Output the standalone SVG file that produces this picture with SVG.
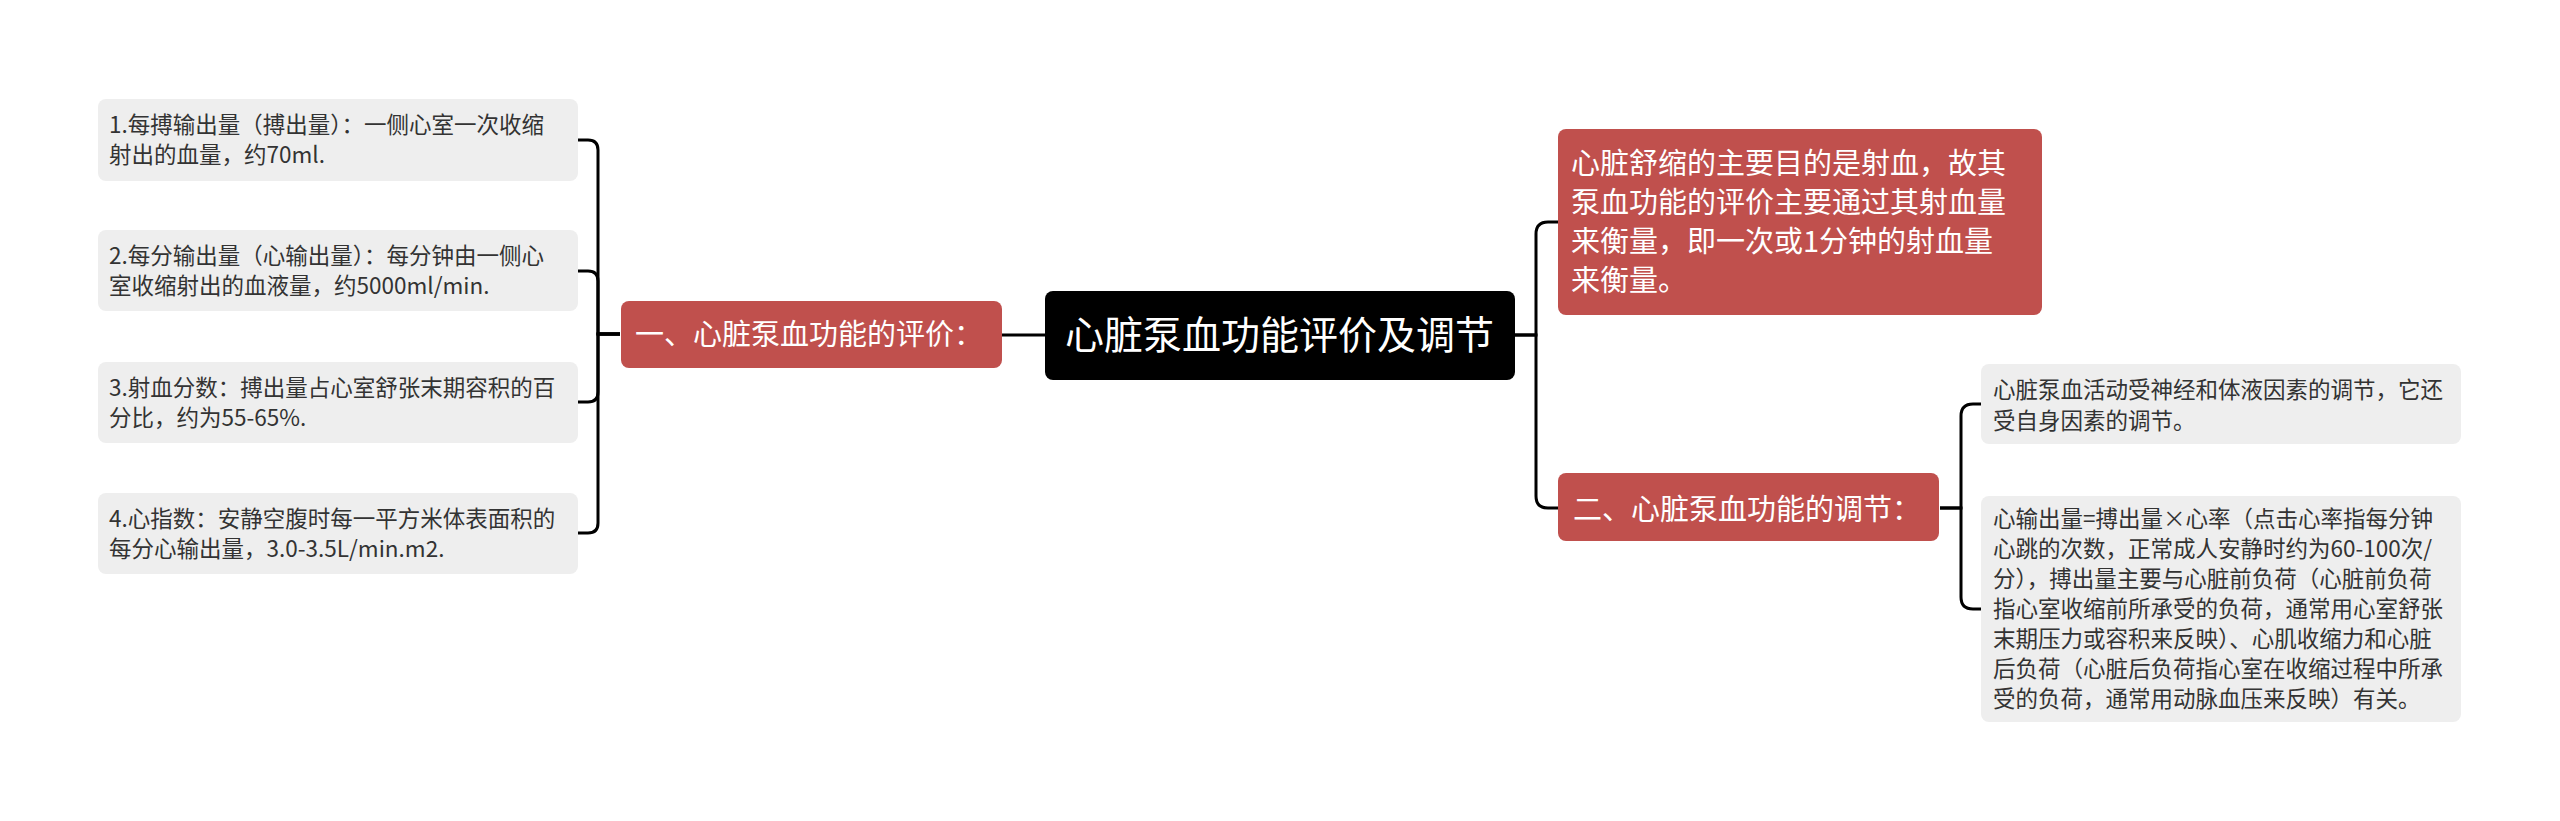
<svg xmlns="http://www.w3.org/2000/svg" width="2560" height="821" viewBox="0 0 2560 821">
<style>
.leaf{fill:#eeeeee}
.red{fill:#c0504d}
.lt{font-family:"Microsoft YaHei","Noto Sans CJK SC","Noto Sans",sans-serif;font-size:22.5px;fill:#333333}
.rt{font-family:"Noto Sans CJK SC",sans-serif;font-size:29px;fill:#ffffff}
.mt{font-family:"Noto Sans CJK SC",sans-serif;font-size:29px;fill:#ffffff}
.ct{font-family:"Noto Sans CJK SC",sans-serif;font-size:39px;fill:#ffffff}
.ln{fill:none;stroke:#000000;stroke-width:3}
</style>
<rect width="2560" height="821" fill="#ffffff"/>
<g id="connectors">
<path class="ln" d="M1045 335 H1001"/>
<path class="ln" d="M620 334 H598 V150 Q598 140 588 140 H578"/>
<path class="ln" d="M620 334 H598 V281 Q598 271 588 271 H578"/>
<path class="ln" d="M620 334 H598 V392 Q598 402 588 402 H578"/>
<path class="ln" d="M620 334 H598 V523 Q598 533 588 533 H578"/>
<path class="ln" d="M1515 335 H1536 V234 Q1536 222 1548 222 H1558"/>
<path class="ln" d="M1515 335 H1536 V496 Q1536 508 1548 508 H1559"/>
<path class="ln" d="M1940 508 H1961 V416 Q1961 404 1973 404 H1981"/>
<path class="ln" d="M1940 508 H1961 V597 Q1961 609 1973 609 H1981"/>
</g>
<g id="root">
<rect x="1045" y="291" width="470" height="89" rx="8" fill="#000000"/>
<text class="ct" x="1065" y="349">心脏泵血功能评价及调节</text>
</g>
<g id="branch1">
<rect class="red" x="621" y="301" width="381" height="67" rx="8"/>
<text class="mt" x="635" y="345">一、心脏泵血功能的评价：</text>
</g>
<g id="leaf1">
<rect class="leaf" x="98" y="99" width="480" height="82" rx="8"/>
<text class="lt" x="109" y="133">1.每搏输出量（搏出量）：一侧心室一次收缩</text>
<text class="lt" x="109" y="163">射出的血量，约70ml.</text>
</g>
<g id="leaf2">
<rect class="leaf" x="98" y="230" width="480" height="81" rx="8"/>
<text class="lt" x="109" y="264">2.每分输出量（心输出量）：每分钟由一侧心</text>
<text class="lt" x="109" y="294">室收缩射出的血液量，约5000ml/min.</text>
</g>
<g id="leaf3">
<rect class="leaf" x="98" y="362" width="480" height="81" rx="8"/>
<text class="lt" x="109" y="396">3.射血分数：搏出量占心室舒张末期容积的百</text>
<text class="lt" x="109" y="426">分比，约为55-65%.</text>
</g>
<g id="leaf4">
<rect class="leaf" x="98" y="493" width="480" height="81" rx="8"/>
<text class="lt" x="109" y="527">4.心指数：安静空腹时每一平方米体表面积的</text>
<text class="lt" x="109" y="557">每分心输出量，3.0-3.5L/min.m2.</text>
</g>
<g id="redbox">
<rect class="red" x="1558" y="129" width="484" height="186" rx="8"/>
<text class="rt" x="1571" y="174">心脏舒缩的主要目的是射血，故其</text>
<text class="rt" x="1571" y="213">泵血功能的评价主要通过其射血量</text>
<text class="rt" x="1571" y="252">来衡量，即一次或1分钟的射血量</text>
<text class="rt" x="1571" y="291">来衡量。</text>
</g>
<g id="branch2">
<rect class="red" x="1558" y="473" width="381" height="68" rx="8"/>
<text class="mt" x="1573" y="520">二、心脏泵血功能的调节：</text>
</g>
<g id="leaf5">
<rect class="leaf" x="1981" y="364" width="480" height="80" rx="8"/>
<text class="lt" x="1993" y="398">心脏泵血活动受神经和体液因素的调节，它还</text>
<text class="lt" x="1993" y="429">受自身因素的调节。</text>
</g>
<g id="leaf6">
<rect class="leaf" x="1981" y="496" width="480" height="226" rx="8"/>
<text class="lt" x="1993" y="527">心输出量=搏出量×心率（点击心率指每分钟</text>
<text class="lt" x="1993" y="557">心跳的次数，正常成人安静时约为60-100次/</text>
<text class="lt" x="1993" y="587">分），搏出量主要与心脏前负荷（心脏前负荷</text>
<text class="lt" x="1993" y="617">指心室收缩前所承受的负荷，通常用心室舒张</text>
<text class="lt" x="1993" y="647">末期压力或容积来反映）、心肌收缩力和心脏</text>
<text class="lt" x="1993" y="677">后负荷（心脏后负荷指心室在收缩过程中所承</text>
<text class="lt" x="1993" y="707">受的负荷，通常用动脉血压来反映）有关。</text>
</g>
</svg>
